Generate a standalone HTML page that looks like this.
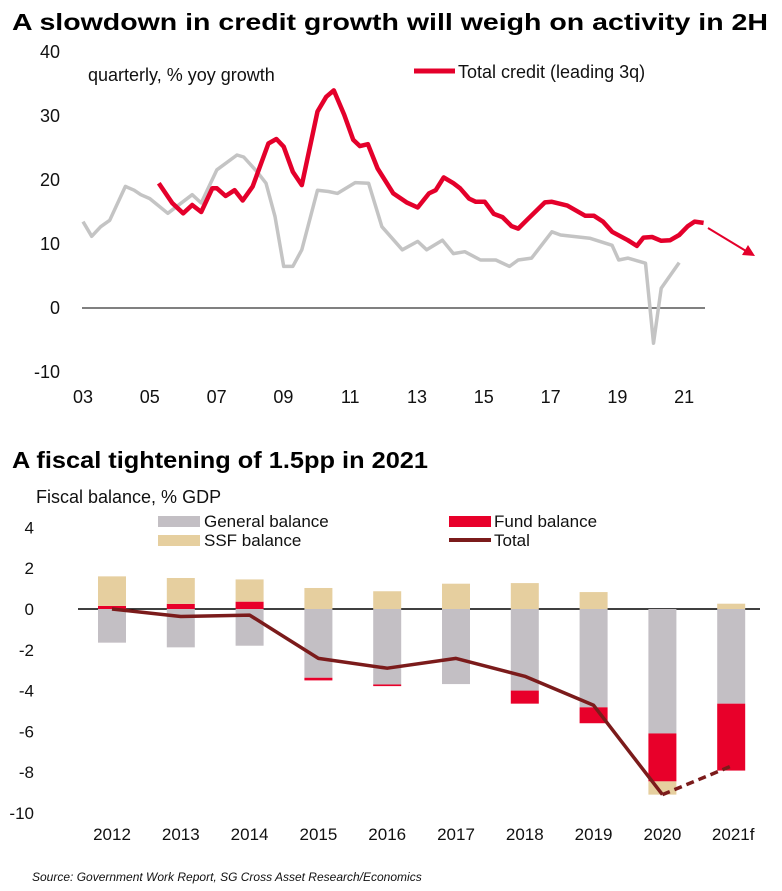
<!DOCTYPE html>
<html><head><meta charset="utf-8">
<style>
html,body{margin:0;padding:0;background:#fff;}
body{width:782px;height:891px;overflow:hidden;font-family:"Liberation Sans",Arial,sans-serif;}
svg{display:block;}
</style></head>
<body>
<svg id="chart" width="782" height="891" viewBox="0 0 782 891" xmlns="http://www.w3.org/2000/svg" font-family="Liberation Sans, Arial, sans-serif">
  <text x="12" y="30" font-size="23" font-weight="bold" textLength="756" lengthAdjust="spacingAndGlyphs">A slowdown in credit growth will weigh on activity in 2H</text>
  <text x="88" y="81" font-size="18" fill="#111">quarterly, % yoy growth</text>
  <line x1="414" y1="71" x2="455" y2="71" stroke="#e4002b" stroke-width="5"/>
  <text x="458" y="78" font-size="18" fill="#111">Total credit (leading 3q)</text>
  <g id="top-axes"></g>
  <g id="top-series"></g>

  <text x="12" y="468" font-size="23" font-weight="bold" textLength="416" lengthAdjust="spacingAndGlyphs">A fiscal tightening of 1.5pp in 2021</text>
  <text x="36" y="503" font-size="18" fill="#111">Fiscal balance, % GDP</text>
  <rect x="158" y="516" width="42" height="11" fill="#c3bfc4"/>
  <text x="204" y="527" font-size="17" fill="#111">General balance</text>
  <rect x="449" y="516" width="42" height="11" fill="#e8002a"/>
  <text x="494" y="527" font-size="17" fill="#111">Fund balance</text>
  <rect x="158" y="535" width="42" height="11" fill="#e6cf9f"/>
  <text x="204" y="546" font-size="17" fill="#111">SSF balance</text>
  <line x1="449" y1="540" x2="491" y2="540" stroke="#7b1b1b" stroke-width="4"/>
  <text x="494" y="546" font-size="17" fill="#111">Total</text>
  <g id="bot-axes"></g>
  <g id="bot-series"></g>

  <text x="32" y="881" font-size="12" font-style="italic" fill="#111">Source: Government Work Report, SG Cross Asset Research/Economics</text>
</svg>
<script>
// ---------- Top chart data ----------
const grayDates = [2003.0,2003.26,2003.53,2003.8,2004.27,2004.53,2004.73,2005.0,2005.54,2006.27,2006.54,2007.01,2007.61,2007.81,2008.21,2008.48,2008.75,2009.01,2009.28,2009.55,2010.02,2010.35,2010.62,2011.15,2011.55,2011.95,2012.56,2013.02,2013.29,2013.76,2014.09,2014.43,2014.9,2015.36,2015.77,2016.03,2016.43,2017.04,2017.3,2018.17,2018.84,2019.04,2019.31,2019.84,2020.08,2020.31,2020.85];
const grayValues = [13.5,11.2,12.7,13.7,19.0,18.4,17.7,17.1,14.8,17.7,16.4,21.6,23.9,23.6,21.3,19.5,14.3,6.5,6.5,9.1,18.4,18.2,17.9,19.6,19.5,12.7,9.1,10.4,9.1,10.6,8.5,8.8,7.5,7.5,6.5,7.5,7.8,11.9,11.4,10.9,9.8,7.5,7.8,7.0,-5.5,3.1,7.1];
const creditDates = [2005.27,2005.67,2006.0,2006.27,2006.54,2006.87,2007.01,2007.27,2007.54,2007.78,2008.08,2008.55,2008.79,2009.01,2009.28,2009.55,2010.02,2010.28,2010.51,2010.82,2011.09,2011.29,2011.53,2011.82,2012.29,2012.69,2013.02,2013.36,2013.56,2013.8,2014.09,2014.29,2014.56,2014.76,2015.03,2015.3,2015.56,2015.83,2016.03,2016.3,2016.83,2017.04,2017.5,2018.04,2018.3,2018.57,2018.84,2019.31,2019.58,2019.78,2020.04,2020.31,2020.58,2020.85,2021.11,2021.31,2021.58];
const creditValues = [19.5,16.4,14.8,16.1,15.0,18.7,18.7,17.5,18.4,16.8,19.0,25.7,26.4,25.2,21.3,19.2,30.7,33.0,34.0,30.2,26.3,25.3,25.6,21.8,17.9,16.5,15.7,17.9,18.4,20.4,19.5,18.7,17.1,16.6,16.6,14.7,14.2,12.8,12.4,13.8,16.5,16.6,16.0,14.4,14.4,13.5,11.9,10.6,9.7,11.0,11.1,10.5,10.6,11.4,12.8,13.5,13.3];
const topYTicks = [40,30,20,10,0,-10];
const topXTickYears = [2003,2005,2007,2009,2011,2013,2015,2017,2019,2021];
const topXTickLabels = ["03","05","07","09","11","13","15","17","19","21"];

// ---------- Bottom chart data ----------
const fiscalYears = ["2012","2013","2014","2015","2016","2017","2018","2019","2020","2021f"];
const generalBal = [-1.65,-1.88,-1.8,-3.37,-3.7,-3.68,-4.0,-4.82,-6.1,-4.64];
const fundBal = [0.15,0.25,0.36,-0.13,-0.08,0,-0.64,-0.78,-2.35,-3.28];
const ssfBal = [1.45,1.27,1.09,1.03,0.87,1.24,1.27,0.83,-0.65,0.26];
const totalBal = [0,-0.37,-0.3,-2.42,-2.9,-2.42,-3.3,-4.72,-9.1,-7.7];
const botYTicks = [4,2,0,-2,-4,-6,-8,-10];

const NS = "http://www.w3.org/2000/svg";
function mk(tag, attrs, parent){
  const e = document.createElementNS(NS, tag);
  for (const k in attrs) e.setAttribute(k, attrs[k]);
  parent.appendChild(e);
  return e;
}

const tx = t => 83 + (t - 2003) * 33.4;
const ty = v => 308 - v * 6.4;
const topAxes = document.getElementById('top-axes');
const topSeries = document.getElementById('top-series');
topYTicks.forEach(v => {
  const t = mk('text', {x: 60, y: ty(v) + 6, 'font-size': 18, 'text-anchor': 'end', fill: '#111'}, topAxes);
  
  
  t.textContent = v;
});
topXTickYears.forEach((yr, i) => {
  const t = mk('text', {x: tx(yr), y: 403, 'font-size': 18, 'text-anchor': 'middle', fill: '#111'}, topAxes);
  
  
  t.textContent = topXTickLabels[i];
});
const zl = mk('line', {x1: 82, y1: ty(0), x2: 705, y2: ty(0), stroke: '#000', 'stroke-width': 1}, topAxes);



const gp = mk('polyline', {points: grayDates.map((d,i)=>tx(d).toFixed(1)+','+ty(grayValues[i]).toFixed(1)).join(' '), fill: 'none', stroke: '#c4c4c4', 'stroke-width': 3.5, 'stroke-linejoin': 'round'}, topSeries);


const rp = mk('polyline', {points: creditDates.map((d,i)=>tx(d).toFixed(1)+','+ty(creditValues[i]).toFixed(1)).join(' '), fill: 'none', stroke: '#e4002b', 'stroke-width': 4.5, 'stroke-linejoin': 'round'}, topSeries);


const ar = mk('line', {x1: 708, y1: 228, x2: 746, y2: 251, stroke: '#e4002b', 'stroke-width': 2}, topSeries);


const ah = mk('polygon', {points: '755,256 742,255 748,245', fill: '#e4002b'}, topSeries);



const bx = i => 112 + i * 68.8;
const by = v => 609 - v * 20.4;
const BW = 28;
const botAxes = document.getElementById('bot-axes');
const botSeries = document.getElementById('bot-series');
botYTicks.forEach(v => {
  const t = mk('text', {x: 34, y: by(v) + 6, 'font-size': 17, 'text-anchor': 'end', fill: '#111'}, botAxes);
  
  
  t.textContent = v;
});
fiscalYears.forEach((y, i) => {
  const t = mk('text', {x: bx(i) + (i===9?2:0), y: 840, 'font-size': 17, 'text-anchor': 'middle', fill: '#111'}, botAxes);
  
  
  t.textContent = y;
});
function seg(i, a, b, color, name){
  const top = by(Math.max(a,b)), bot = by(Math.min(a,b));
  if (bot - top < 0.01) return;
  const r = mk('rect', {x: bx(i) - BW/2, y: top, width: BW, height: bot - top, fill: color}, botSeries);
  
  
}
fiscalYears.forEach((y, i) => {
  const g = generalBal[i], f = fundBal[i], s = ssfBal[i];
  seg(i, 0, g, '#c3bfc4', 'general-balance-bar');
  let pos = 0, neg = g;
  if (f >= 0) { seg(i, pos, pos + f, '#e8002a', 'fund-balance-bar'); pos += f; }
  else { seg(i, neg, neg + f, '#e8002a', 'fund-balance-bar'); neg += f; }
  if (s >= 0) { seg(i, pos, pos + s, '#e6cf9f', 'ssf-balance-bar'); pos += s; }
  else { seg(i, neg, neg + s, '#e6cf9f', 'ssf-balance-bar'); neg += s; }
});
const bz = mk('line', {x1: 78, y1: by(0), x2: 760, y2: by(0), stroke: '#000', 'stroke-width': 1.5}, botAxes);


const solidPts = totalBal.slice(0, 9).map((v,i)=>bx(i).toFixed(1)+','+by(v).toFixed(1)).join(' ');
const tl = mk('polyline', {points: solidPts, fill: 'none', stroke: '#7b1b1b', 'stroke-width': 3.5, 'stroke-linejoin': 'round'}, botSeries);


const td = mk('line', {x1: bx(8), y1: by(totalBal[8]), x2: bx(9), y2: by(totalBal[9]), stroke: '#7b1b1b', 'stroke-width': 3.5, 'stroke-dasharray': '8,5'}, botSeries);


</script>
</body></html>
